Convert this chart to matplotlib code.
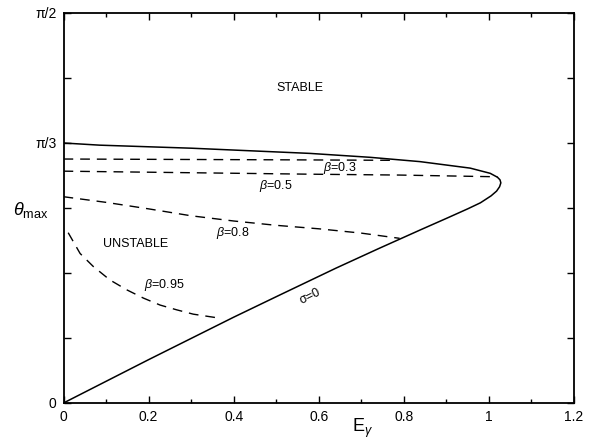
import numpy as np
import matplotlib
matplotlib.use('Agg')
from matplotlib import pyplot as plt
from matplotlib.ticker import MultipleLocator, FixedLocator, FixedFormatter

plt.rcParams['font.family'] = ['Liberation Sans', 'DejaVu Sans']
plt.rcParams['mathtext.fontset'] = 'custom'
plt.rcParams['mathtext.rm'] = 'Liberation Sans'
plt.rcParams['mathtext.it'] = 'Liberation Sans:italic'

# sigma = 0 boundary (E_gamma, theta_max in degrees), lower branch then upper branch
sigma0_E = [0.0, 0.2, 0.4, 0.51, 0.64, 0.74, 0.79, 0.84, 0.90, 0.95, 0.98, 1.005, 1.018, 1.025,
            1.028, 1.026, 1.020, 1.003, 0.956, 0.838, 0.72, 0.579, 0.3, 0.085, 0.0]
sigma0_th = [0.0, 10.0, 19.8, 25.0, 31.1, 35.6, 37.8, 40.0, 42.6, 44.8, 46.2, 47.8, 48.9, 49.9,
             50.8, 51.5, 52.1, 53.0, 54.2, 55.7, 56.7, 57.6, 58.8, 59.5, 60.0]

# dashed curves for various beta
b03_E = [0.0, 0.56, 0.78]
b03_th = [56.3, 56.1, 56.0]

b05_E = [0.0, 0.58, 0.79, 1.02]
b05_th = [53.5, 52.8, 52.6, 52.2]

b08_E = [0.0, 0.1, 0.2, 0.3, 0.4, 0.5, 0.6, 0.7, 0.79]
b08_th = [47.6, 46.3, 44.8, 43.2, 42.0, 41.0, 40.2, 39.2, 38.0]

b095_E = [0.011, 0.039, 0.070, 0.109, 0.149, 0.188, 0.227, 0.266, 0.305, 0.372]
b095_th = [39.3, 34.5, 31.5, 28.4, 26.1, 24.2, 22.6, 21.5, 20.5, 19.5]

xtick_vals = [0, 0.2, 0.4, 0.6, 0.8, 1.0, 1.2]
xtick_lbls = ['0', '0.2', '0.4', '0.6', '0.8', '1', '1.2']
ytick_vals = [0, 15, 30, 45, 60, 75, 90]
ytick_lbls = ['0', '', '', '', '\u03c0/3', '', '\u03c0/2']

fig = plt.figure(figsize=(5.93, 4.45), dpi=100)
ax = fig.add_axes([0.1071, 0.0944, 0.8609, 0.8764])

ax.plot(sigma0_E, sigma0_th, color='k', linewidth=1.1)
dash = (0, (7, 5))
for E, th in [(b03_E, b03_th), (b05_E, b05_th), (b08_E, b08_th), (b095_E, b095_th)]:
    ax.plot(E, th, color='k', linewidth=1.0, linestyle=dash)

ax.set_xlim(0, 1.2)
ax.set_ylim(0, 90)

ax.xaxis.set_major_locator(FixedLocator(xtick_vals))
ax.xaxis.set_major_formatter(FixedFormatter(xtick_lbls))
ax.xaxis.set_minor_locator(MultipleLocator(0.1))
ax.yaxis.set_major_locator(FixedLocator(ytick_vals))
ax.yaxis.set_major_formatter(FixedFormatter(ytick_lbls))
ax.tick_params(which='both', direction='in', top=True, right=True, labelsize=10, width=1.0)
ax.tick_params(which='major', length=5, pad=5)
ax.tick_params(which='minor', length=3)
for s in ax.spines.values():
    s.set_linewidth(1.3)

ax.set_xlabel(r'$\mathrm{E}_{\gamma}$', fontsize=13, va='center')
ax.xaxis.set_label_coords(0.585, -0.064)
ax.set_ylabel(r'$\theta_{\mathrm{max}}$', fontsize=13, rotation=0, ha='center', va='center')
ax.yaxis.set_label_coords(-0.064, 0.495)

fs = 9
ax.text(0.556, 72.8, 'STABLE', fontsize=fs, ha='center', va='center')
ax.text(0.169, 36.6, 'UNSTABLE', fontsize=fs, ha='center', va='center')
ax.text(0.650, 54.3, r'$\beta$=0.3', fontsize=fs, ha='center', va='center')
ax.text(0.4995, 50.1, r'$\beta$=0.5', fontsize=fs, ha='center', va='center')
ax.text(0.397, 39.3, r'$\beta$=0.8', fontsize=fs, ha='center', va='center')
ax.text(0.236, 27.2, r'$\beta$=0.95', fontsize=fs, ha='center', va='center')
ax.text(0.58, 24.6, '\u03c3=0', fontsize=fs, ha='center', va='center', rotation=26)

fig.savefig('out.png', dpi=100)
